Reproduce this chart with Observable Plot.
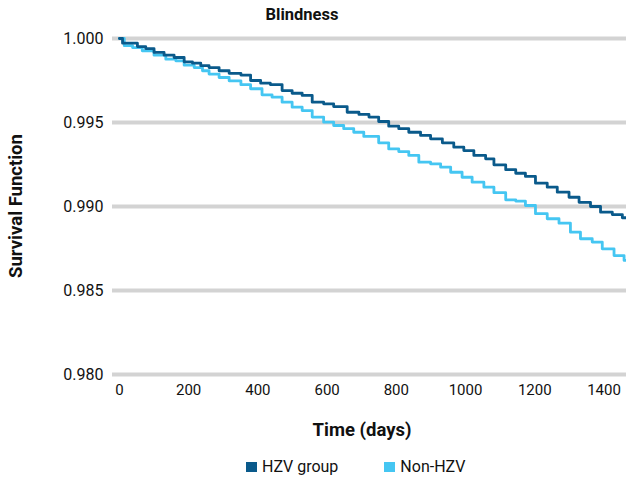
<!DOCTYPE html>
<html>
<head>
<meta charset="utf-8">
<script src="https://cdn.jsdelivr.net/npm/d3@7"></script>
<script src="https://cdn.jsdelivr.net/npm/@observablehq/plot@0.6"></script>
<style>
  html, body { margin: 0; padding: 0; background: #fff; }
  #wrap { position: relative; width: 626px; height: 478px; overflow: hidden; font-family: Roboto, "Noto Sans", sans-serif; color: #111; }
  #chart { position: absolute; left: 0; top: 0; }
  .abs { position: absolute; white-space: nowrap; }
  #title { left: 302px; top: 5px; transform: translateX(-50%); font-weight: bold; font-size: 16.5px; }
  #xlabel { left: 362px; top: 419px; transform: translateX(-50%); font-weight: bold; font-size: 18.5px; }
  #ylabel { left: 16px; top: 206px; transform: translate(-50%, -50%) rotate(-90deg); font-weight: bold; font-size: 18.5px; }
  #legend { left: 246px; top: 457px; font-size: 16px; display: flex; align-items: center; }
  .sw { display: inline-block; width: 11px; height: 10px; margin-right: 5px; }
  .item { display: flex; align-items: center; }
</style>
</head>
<body>
<div id="wrap">
  <div id="chart"></div>
  <div id="title" class="abs">Blindness</div>
  <div id="xlabel" class="abs">Time (days)</div>
  <div id="ylabel" class="abs">Survival Function</div>
  <div id="legend" class="abs"></div>
</div>
<script>
const seriesNames = ["HZV group", "Non-HZV"];
const seriesColors = ["#0a5a8b", "#45c6f2"];

const hzvDays = [0, 9, 52, 76, 100, 129, 158, 187, 211, 235, 259, 288, 317, 351, 379, 408, 436, 470, 499, 528, 557, 590, 619, 658, 692, 721, 749, 778, 807, 836, 870, 899, 933, 966, 995, 1024, 1058, 1082, 1116, 1145, 1173, 1202, 1236, 1265, 1299, 1328, 1361, 1390, 1424, 1453, 1465];
const hzvSurv = [1.0, 0.99972, 0.99952, 0.9994, 0.99917, 0.99901, 0.99887, 0.99861, 0.99853, 0.99838, 0.99827, 0.99808, 0.99793, 0.99782, 0.9975, 0.99734, 0.99726, 0.9969, 0.99674, 0.99661, 0.99621, 0.99611, 0.99595, 0.99561, 0.99548, 0.99532, 0.99506, 0.99478, 0.99463, 0.99442, 0.99423, 0.99403, 0.99379, 0.99353, 0.99333, 0.99304, 0.99284, 0.99248, 0.99219, 0.99198, 0.99179, 0.99139, 0.99115, 0.99085, 0.99055, 0.99025, 0.99, 0.98966, 0.98952, 0.98933, 0.98933];

const nonDays = [0, 14, 38, 66, 100, 134, 163, 187, 216, 240, 259, 288, 317, 351, 379, 412, 441, 470, 499, 528, 557, 590, 619, 648, 677, 706, 749, 778, 807, 836, 865, 899, 928, 957, 990, 1019, 1053, 1082, 1116, 1145, 1173, 1202, 1236, 1270, 1303, 1332, 1366, 1395, 1429, 1458, 1465];
const nonSurv = [1.0, 0.99957, 0.99946, 0.99927, 0.99901, 0.99877, 0.99867, 0.99841, 0.99827, 0.99808, 0.99788, 0.99768, 0.99748, 0.99725, 0.99701, 0.99665, 0.99651, 0.99621, 0.99591, 0.99571, 0.99532, 0.99502, 0.99482, 0.99463, 0.99442, 0.99417, 0.99379, 0.99343, 0.99327, 0.99304, 0.99264, 0.99254, 0.99234, 0.99204, 0.99174, 0.99145, 0.99115, 0.99082, 0.9904, 0.99032, 0.99006, 0.98957, 0.98927, 0.98901, 0.98847, 0.98808, 0.98788, 0.98748, 0.98708, 0.98679, 0.98679];

const xTicks = [0, 200, 400, 600, 800, 1000, 1200, 1400];
const yTicks = [0.980, 0.985, 0.990, 0.995, 1.000];

const hzv = hzvDays.map((d, i) => ({day: d, s: hzvSurv[i], g: seriesNames[0]}));
const non = nonDays.map((d, i) => ({day: d, s: nonSurv[i], g: seriesNames[1]}));

const chart = Plot.plot({
  width: 626,
  height: 478,
  marginLeft: 112,
  marginRight: 0,
  marginTop: 38,
  marginBottom: 104,
  style: {fontFamily: "Roboto, sans-serif", fontSize: "15px", color: "#111", background: "transparent"},
  x: {domain: [-20, 1465], ticks: xTicks, tickFormat: d3.format("d"), tickSize: 0, tickPadding: 10, label: null},
  y: {domain: [0.980, 1.000], ticks: yTicks, tickFormat: d3.format(".3f"), tickSize: 0, tickPadding: 9, label: null},
  marks: [
    Plot.ruleY(yTicks, {stroke: "#d3d3d3", strokeWidth: 4, strokeOpacity: 1}),
    Plot.axisY({ticks: yTicks, tickFormat: d3.format(".3f"), tickSize: 0, tickPadding: 9, fontSize: 16, label: null}),
    Plot.axisX({ticks: xTicks, tickFormat: d3.format("d"), tickSize: 0, tickPadding: 10, fontSize: 15, label: null}),
    Plot.line(non, {x: "day", y: "s", stroke: seriesColors[1], strokeWidth: 2.8, curve: "step-after"}),
    Plot.line(hzv, {x: "day", y: "s", stroke: seriesColors[0], strokeWidth: 2.8, curve: "step-after"})
  ]
});
document.getElementById("chart").appendChild(chart);

const legend = document.getElementById("legend");
seriesNames.forEach((n, i) => {
  const it = document.createElement("div");
  it.className = "item";
  if (i > 0) it.style.marginLeft = "46px";
  const sw = document.createElement("span");
  sw.className = "sw";
  sw.style.background = seriesColors[i];
  it.appendChild(sw);
  it.appendChild(document.createTextNode(n));
  legend.appendChild(it);
});
</script>
</body>
</html>
